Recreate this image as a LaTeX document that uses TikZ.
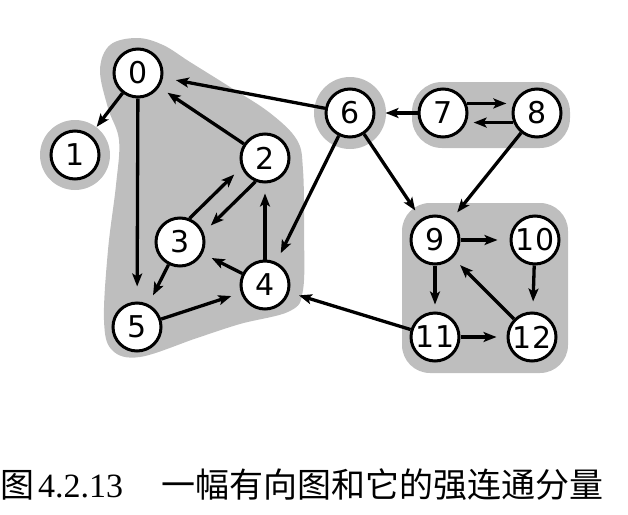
\documentclass[tikz,border=0pt]{standalone}
\usepackage{fontspec}
\setmainfont{Liberation Serif}
\newfontfamily\lab{DejaVu Sans}
\newfontfamily\cjk{Noto Sans CJK SC}
\usetikzlibrary{arrows.meta}
\definecolor{blobgray}{RGB}{190,190,190}
\begin{document}
\begin{tikzpicture}[x=1pt,y=-1pt,
  vert/.style={circle,draw=black,fill=white,line width=3pt,minimum size=48pt,inner sep=0pt,font=\lab\fontsize{30}{30}\selectfont},
  arr/.style={-{Stealth[length=13pt,width=10pt,inset=3pt]},line width=3.3pt,shorten >=10pt},
  captext/.style={anchor=base west,inner sep=0pt,font=\fontsize{34}{34}\selectfont}]
\useasboundingbox (0,0) rectangle (628,514);
% components
\fill[blobgray] plot[smooth cycle,tension=0.6] coordinates {
  (137,38) (163,45) (190,62) (230,87) (270,113) (297,140) (303,170)
  (304,230) (303,290) (290,311) (240,324) (197,338) (140,357) (112,350)
  (104,320) (108,250) (116,185) (119,140) (108,108) (100,70) (110,45)};
\fill[blobgray] (75,155) circle[radius=35];
\fill[blobgray] (350,113) circle[radius=36];
\fill[blobgray,rounded corners=30pt] (412,82) rectangle (570,148);
\fill[blobgray,rounded corners=28pt] (402,203) rectangle (568,373);
% vertices
\node[vert] (n0) at (138,73) {0};
\node[vert] (n1) at (75,155) {1};
\node[vert] (n2) at (265,158) {2};
\node[vert] (n3) at (180,242) {3};
\node[vert] (n4) at (265,285) {4};
\node[vert] (n5) at (137,327) {5};
\node[vert] (n6) at (350,113) {6};
\node[vert] (n7) at (443,113) {7};
\node[vert] (n8) at (537,113) {8};
\node[vert] (n9) at (435,240) {9};
\node[vert] (n10) at (535,240) {10};
\node[vert] (n11) at (435,337) {11};
\node[vert] (n12) at (532,337) {12};
% edges
\draw[arr] (n0) -- (n1);
\draw[arr,shorten >=15pt] (n0) -- (n5);
\draw[arr] (n2) -- (n0);
\draw[arr,shorten >=13pt] (n6) -- (n0);
\draw[arr] (n3.68) -- (n2.202);
\draw[arr] (n2.248) -- (n3.22);
\draw[arr] (n4) -- (n2);
\draw[arr] (n4) -- (n3);
\draw[arr] (n3) -- (n5);
\draw[arr] (n5) -- (n4);
\draw[arr] (n6) -- (n4);
\draw[arr] (n6) -- (n9);
\draw[arr] (n7) -- (n6);
\draw[arr,shorten >=7pt] (n7.22) -- (n8.158);
\draw[arr,shorten >=7pt] (n8.-158) -- (n7.-22);
\draw[arr] (n8) -- (n9);
\draw[arr,shorten >=12pt] (n9) -- (n10);
\draw[arr,shorten >=7pt] (n9) -- (n11);
\draw[arr] (n10) -- (n12);
\draw[arr] (n12) -- (n9);
\draw[arr] (n11) -- (n12);
\draw[arr] (n11) -- (n4);
% caption
\node[captext] (c1) at (0,497) {\cjk 图};
\node[captext] (c2) at (38,497) {4.2.13};
\node[captext] (c3) at (161,497) {\cjk 一幅有向图和它的强连通分量};
\end{tikzpicture}
\end{document}
